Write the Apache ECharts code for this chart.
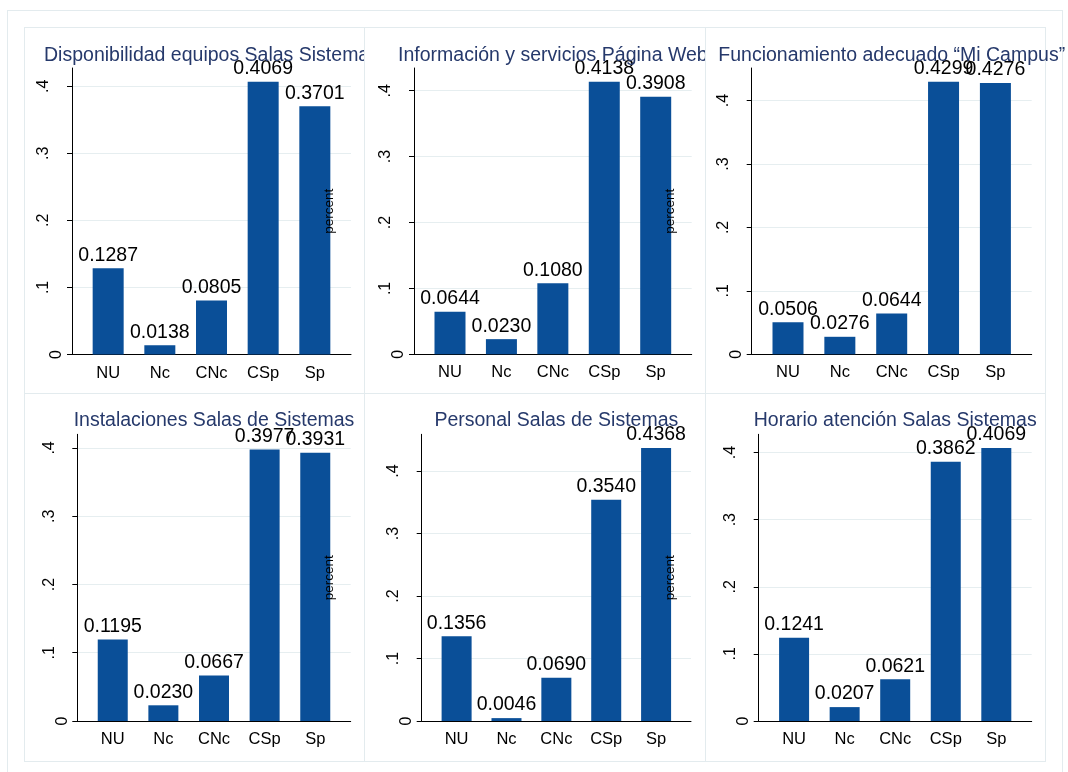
<!DOCTYPE html>
<html>
<head>
<meta charset="utf-8">
<script src="https://cdn.jsdelivr.net/npm/echarts@6/dist/echarts.min.js"></script>
<style>
    body { margin: 0; background: #fff; width: 1068px; height: 772px; position: relative; overflow: hidden; }
    .frame { position: absolute; border: 1px solid #e3ebee; box-sizing: border-box; }
    .line { position: absolute; background: #e3ebee; }
    .panel { position: absolute; }
</style>
</head>
<body>
<div class="frame" style="left:7px; top:10px; width:1056px; height:780px;"></div>
<div class="frame" style="left:24px; top:27px; width:1022px; height:735px;"></div>
<div class="line" style="left:364px; top:27px; width:1px; height:735px;"></div>
<div class="line" style="left:705px; top:27px; width:1px; height:735px;"></div>
<div class="line" style="left:24px; top:393px; width:1022px; height:1px;"></div>
<script>
var categories = ['NU', 'Nc', 'CNc', 'CSp', 'Sp'];
var yTicks = [0, 0.1, 0.2, 0.3, 0.4];

var disponibilidad = [0.1287, 0.0138, 0.0805, 0.4069, 0.3701];
var informacion = [0.0644, 0.0230, 0.1080, 0.4138, 0.3908];
var funcionamiento = [0.0506, 0.0276, 0.0644, 0.4299, 0.4276];
var instalaciones = [0.1195, 0.0230, 0.0667, 0.3977, 0.3931];
var personal = [0.1356, 0.0046, 0.0690, 0.3540, 0.4368];
var horario = [0.1241, 0.0207, 0.0621, 0.3862, 0.4069];

var titulos = [
    'Disponibilidad equipos Salas Sistemas',
    'Información y servicios Página Web',
    'Funcionamiento adecuado “Mi Campus”',
    'Instalaciones Salas de Sistemas',
    'Personal Salas de Sistemas',
    'Horario atención Salas Sistemas'
];
var datos = [disponibilidad, informacion, funcionamiento, instalaciones, personal, horario];
var conPercent = [true, true, false, true, true, false];

// caja de cada panel: left, top, width, height
var cajas = [
    [25, 28, 339, 365], [364, 28, 341, 365], [705, 28, 363, 365],
    [25, 393, 339, 368], [364, 393, 341, 368], [705, 393, 363, 368]
];
// grid dentro del panel: left, right, top, bottom
var grids = [
    [47, 13, 40, 38.5], [50, 13.3, 40, 38.7], [46.7, 36.3, 40, 38.7],
    [52.3, 13.3, 41.3, 40], [57.7, 14, 41.3, 40], [53.7, 36.3, 41.3, 40]
];

var fuente = "'Liberation Sans', Arial, sans-serif";

function draw_panel(i) {
    var c = cajas[i];
    var g = grids[i];
    var data = datos[i];
    var div = document.createElement('div');
    div.className = 'panel';
    div.style.left = c[0] + 'px';
    div.style.top = c[1] + 'px';
    div.style.width = c[2] + 'px';
    div.style.height = c[3] + 'px';
    document.body.appendChild(div);

    var myChart = echarts.init(div);
    var plotW = c[2] - g[0] - g[1];
    var plotH = c[3] - g[2] - g[3];
    var yMax = Math.max(Math.max.apply(null, data), yTicks[yTicks.length - 1]) * 1.05;
    var barW = Math.round(plotW / 5.4 * 0.6);

    var graficos = [];
    if (conPercent[i]) {
        graficos.push({
            type: 'text',
            x: c[2] - 35,
            y: g[2] + plotH / 2,
            rotation: Math.PI / 2,
            z: 100,
            style: {
                text: 'percent',
                fill: '#000',
                font: '13.5px ' + fuente,
                align: 'center',
                verticalAlign: 'middle'
            }
        });
    }

    var option = {
        animation: false,
        title: {
            text: titulos[i],
            left: g[0] + plotW / 2,
            top: 18,
            textAlign: 'center',
            padding: 0,
            textStyle: {
                color: '#26396b',
                fontWeight: 'normal',
                fontSize: 19.5,
                fontFamily: fuente
            }
        },
        grid: {
            left: g[0],
            right: g[1],
            top: g[2],
            bottom: g[3],
            containLabel: false
        },
        xAxis: {
            type: 'value',
            min: -0.7,
            max: 4.7,
            axisLine: {show: true, onZero: false, lineStyle: {color: '#000', width: 1}},
            axisTick: {show: false},
            splitLine: {show: false},
            axisLabel: {
                customValues: [0, 1, 2, 3, 4],
                formatter: function (v) {
                    return categories[Math.round(v)];
                },
                color: '#000',
                fontSize: 16.5,
                fontFamily: fuente,
                margin: 10
            }
        },
        yAxis: {
            type: 'value',
            min: 0,
            max: yMax,
            axisLine: {show: true, onZero: false, lineStyle: {color: '#000', width: 1}},
            axisTick: {show: true, length: 5, customValues: yTicks, lineStyle: {color: '#000'}},
            splitLine: {show: true, lineStyle: {color: '#e6eef0', width: 1}},
            axisLabel: {
                customValues: yTicks,
                rotate: 90,
                margin: 7,
                color: '#000',
                fontSize: 16,
                fontFamily: fuente,
                formatter: function (v) {
                    var r = Math.round(v * 10) / 10;
                    return r === 0 ? '{z|0}' : '{n|' + String(r).replace(/^0/, '') + '}';
                },
                rich: {
                    z: {fontSize: 16, fontFamily: fuente, color: '#000'},
                    n: {fontSize: 16, fontFamily: fuente, color: '#000', padding: [0, 0, 13, 0]}
                }
            }
        },
        graphic: {elements: graficos},
        series: [{
            type: 'bar',
            barWidth: barW,
            data: data.map(function (v, k) {
                return [k, v];
            }),
            itemStyle: {color: '#0a4f98'},
            label: {
                show: true,
                position: 'top',
                distance: 3,
                color: '#000',
                fontSize: 19.5,
                fontFamily: fuente,
                formatter: function (p) {
                    return p.value[1].toFixed(4);
                }
            }
        }]
    };
    myChart.setOption(option);
}

for (var i = 0; i < 6; i++) {
    draw_panel(i);
}
</script>
</body>
</html>
